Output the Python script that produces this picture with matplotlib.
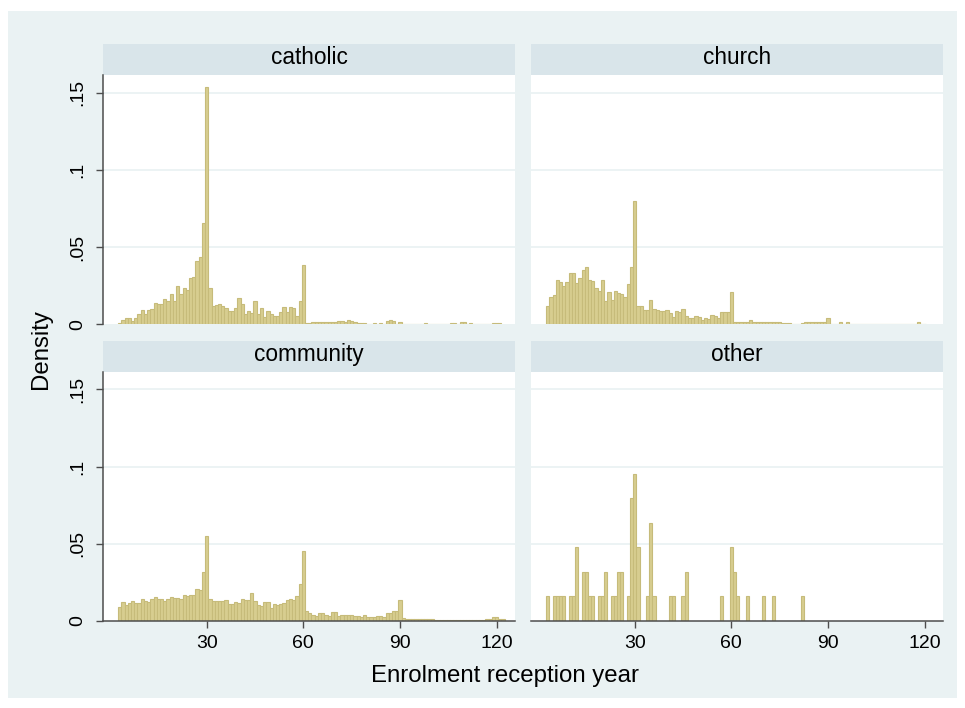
import numpy as np
import matplotlib
matplotlib.use("Agg")
import matplotlib.pyplot as plt
from matplotlib.patches import Rectangle

plt.rcParams['font.family'] = ['Liberation Sans', 'DejaVu Sans']

# ---- data: density by enrolment reception year (one-year bins) ----
catholic_start = 3
catholic_density = [
    0.001, 0.003, 0.004, 0.004, 0.002, 0.004, 0.007, 0.0095, 0.007, 0.0095,
    0.010, 0.0136, 0.013, 0.013, 0.0165, 0.015, 0.020, 0.0155, 0.0247, 0.020,
    0.0238, 0.0225, 0.030, 0.031, 0.041, 0.044, 0.066, 0.154,
    0.0235, 0.012, 0.0125, 0.013, 0.012, 0.011, 0.009, 0.009, 0.011, 0.017,
    0.013, 0.007, 0.009, 0.0076, 0.015, 0.0065, 0.0104, 0.0048, 0.0087, 0.0069,
    0.0058, 0.0052, 0.0082, 0.0113, 0.0082, 0.0113, 0.0108, 0.0054, 0.0152, 0.0385,
    0.0011, 0.0011, 0.0017, 0.0015, 0.0017, 0.0015, 0.0015, 0.0017, 0.0015, 0.0017,
    0.0022, 0.0022, 0.0017, 0.003, 0.0022, 0.0017, 0.0011, 0.0011, 0.0011, 0.0,
    0.0, 0.0007, 0.0, 0.0007, 0.0, 0.0022, 0.003, 0.0022, 0.0, 0.0017,
    0.0, 0.0, 0.0, 0.0, 0.0, 0.0, 0.0, 0.0007, 0.0, 0.0,
    0.0, 0.0, 0.0, 0.0, 0.0, 0.0007, 0.0007, 0.0, 0.0017, 0.0017,
    0.0, 0.0007, 0.0, 0.0, 0.0, 0.0, 0.0, 0.0, 0.0007, 0.0007,
    0.0007,
]

church_start = 3
church_density = [
    0.012, 0.018, 0.0194, 0.029, 0.0276, 0.025, 0.0274, 0.0336, 0.0336, 0.027,
    0.030, 0.035, 0.0369, 0.0287, 0.028, 0.0237, 0.022, 0.0287, 0.015, 0.021,
    0.016, 0.0216, 0.0205, 0.020, 0.018, 0.0265, 0.037, 0.080,
    0.012, 0.012, 0.0097, 0.0097, 0.0157, 0.0101, 0.0093, 0.0088, 0.0088, 0.0093,
    0.0075, 0.0049, 0.0088, 0.0082, 0.0099, 0.0056, 0.0039, 0.0039, 0.0054, 0.0049,
    0.0032, 0.0039, 0.0037, 0.006, 0.0054, 0.0039, 0.008, 0.0082, 0.008, 0.0213,
    0.0015, 0.0015, 0.0013, 0.0015, 0.0015, 0.0026, 0.0015, 0.0015, 0.0015, 0.0017,
    0.0019, 0.0019, 0.0015, 0.0017, 0.0015, 0.0011, 0.0011, 0.0011, 0.0006, 0.0006,
    0.0, 0.0011, 0.0013, 0.0013, 0.0013, 0.0013, 0.0013, 0.0015, 0.0013, 0.0041,
    0.0, 0.0, 0.0, 0.0013, 0.0, 0.0013, 0.0, 0.0006, 0.0, 0.0006,
    0.0006, 0.0, 0.0, 0.0, 0.0, 0.0, 0.0006, 0.0006, 0.0, 0.0,
    0.0, 0.0, 0.0006, 0.0006, 0.0, 0.0, 0.0, 0.0013, 0.0, 0.0006,
]

community_start = 3
community_density = [
    0.0092, 0.0124, 0.0105, 0.0116, 0.0127, 0.0116, 0.0116, 0.0138, 0.0127, 0.0124,
    0.0138, 0.0155, 0.014, 0.014, 0.0129, 0.014, 0.0153, 0.0146, 0.0144, 0.014,
    0.0168, 0.016, 0.0168, 0.0168, 0.0205, 0.0197, 0.0317, 0.0552,
    0.0138, 0.0127, 0.013, 0.013, 0.013, 0.0135, 0.011, 0.011, 0.012, 0.0113,
    0.014, 0.0137, 0.0137, 0.018, 0.0127, 0.0105, 0.0096, 0.012, 0.0124, 0.0083,
    0.011, 0.0103, 0.0107, 0.0116, 0.0135, 0.0138, 0.0135, 0.016, 0.0238, 0.0454,
    0.006, 0.0048, 0.004, 0.0033, 0.0048, 0.0048, 0.004, 0.0033, 0.0055, 0.0055,
    0.0033, 0.004, 0.004, 0.004, 0.004, 0.003, 0.003, 0.0026, 0.0037, 0.0026,
    0.0026, 0.0022, 0.0033, 0.003, 0.0022, 0.0048, 0.005, 0.006, 0.006, 0.0135,
    0.002, 0.0011, 0.0011, 0.0009, 0.0009, 0.0009, 0.0009, 0.0009, 0.0009, 0.0009,
    0.0007, 0.0007, 0.0007, 0.0007, 0.0007, 0.0007, 0.0007, 0.0007, 0.0007, 0.0007,
    0.0007, 0.0007, 0.0007, 0.0007, 0.0007, 0.0007, 0.0011, 0.0011, 0.0022, 0.0022,
    0.0011, 0.0011,
]

# "other" is a small group: counts of schools per year
other_years = [3, 5, 6, 7, 8, 10, 11, 12, 14, 15, 16, 17, 19, 20, 21, 23, 24, 25, 26,
               28, 29, 30, 31, 34, 35, 36, 41, 42, 45, 46, 57, 60, 61, 62, 65, 70, 73, 82]
other_counts = [1, 1, 1, 1, 1, 1, 1, 3, 2, 2, 1, 1, 1, 1, 2, 1, 1, 2, 2,
                1, 5, 6, 3, 1, 4, 1, 1, 1, 1, 2, 1, 3, 2, 1, 1, 1, 1, 1]

panel_titles = ["catholic", "church", "community", "other"]
x_ticks = [30, 60, 90, 120]
y_ticks = [0, 0.05, 0.1, 0.15]
y_tick_labels = ["0", ".05", ".1", ".15"]
x_title = "Enrolment reception year"
y_title = "Density"

# ---- styling ----
W, H = 965, 708
BG = "#EAF2F3"
STRIP = "#D9E5EA"
BAR_FILL = "#D7CD90"
BAR_EDGE = "#C6BB7A"
AXIS_COL = "#4D4D4D"

fig = plt.figure(figsize=(W / 100, H / 100), dpi=100, facecolor="white")
fig.patches.append(Rectangle((8 / W, 1 - 698 / H), 949 / W, 687 / H,
                             transform=fig.transFigure, facecolor=BG,
                             edgecolor="none", zorder=-10))


def fbox(x0, y0, x1, y1):
    """pixel box (top-left origin) -> figure fraction [l, b, w, h]"""
    return [x0 / W, 1 - y1 / H, (x1 - x0) / W, (y1 - y0) / H]


cols = [(103, 515), (531, 943)]
rows = [(44.3, 75.0, 324.5), (341.0, 371.7, 620.7)]

other_total = sum(other_counts)
other_density = [c / other_total for c in other_counts]

series = [
    (np.arange(catholic_start, catholic_start + len(catholic_density)), catholic_density),
    (np.arange(church_start, church_start + len(church_density)), church_density),
    (np.arange(community_start, community_start + len(community_density)), community_density),
    (np.array(other_years), other_density),
]

for i, (title, (xs, ys)) in enumerate(zip(panel_titles, series)):
    r, c = divmod(i, 2)
    x0, x1 = cols[c]
    s0, p0, p1 = rows[r]

    # strip with panel title
    sax = fig.add_axes(fbox(x0, s0, x1, p0))
    sax.set_facecolor(STRIP)
    sax.set_xticks([])
    sax.set_yticks([])
    for sp in sax.spines.values():
        sp.set_visible(False)
    sax.text(0.5, 0.57, title, ha="center", va="center", fontsize=16.3,
             color="black", transform=sax.transAxes)

    ax = fig.add_axes(fbox(x0, p0, x1, p1))
    ax.set_facecolor("white")
    ax.set_xlim(-2.2, 125.7)
    ax.set_ylim(0, 0.1615)
    for yv in y_ticks[1:]:
        ax.axhline(yv, color=BG, lw=1.3, zorder=0.5)
    ax.bar(xs, ys, width=1.0, align="center", color=BAR_FILL,
           edgecolor=BAR_EDGE, linewidth=0.8, zorder=2)

    for sp in ["top", "right"]:
        ax.spines[sp].set_visible(False)
    ax.spines["left"].set_visible(c == 0)
    ax.spines["bottom"].set_visible(r == 1)
    ax.spines["left"].set_color(AXIS_COL)
    ax.spines["bottom"].set_color(AXIS_COL)
    ax.spines["left"].set_linewidth(1.1)
    ax.spines["bottom"].set_linewidth(1.1)

    if r == 1:
        ax.set_xticks(x_ticks)
        ax.set_xticklabels([str(t) for t in x_ticks], fontsize=14)
        ax.tick_params(axis="x", length=5, width=1, color=AXIS_COL, pad=5)
    else:
        ax.set_xticks([])
    if c == 0:
        ax.set_yticks(y_ticks)
        ax.set_yticklabels(y_tick_labels, fontsize=14, rotation=90,
                           va="center")
        ax.tick_params(axis="y", length=5, width=1, color=AXIS_COL, pad=7)
    else:
        ax.set_yticks([])

fig.text(505 / W, 1 - 676 / H, x_title, ha="center", va="center", fontsize=17.3)
fig.text(41 / W, 1 - 349 / H, y_title, ha="center", va="center", fontsize=17.3,
         rotation=90)

fig.savefig("out.png", dpi=100, facecolor="white")
